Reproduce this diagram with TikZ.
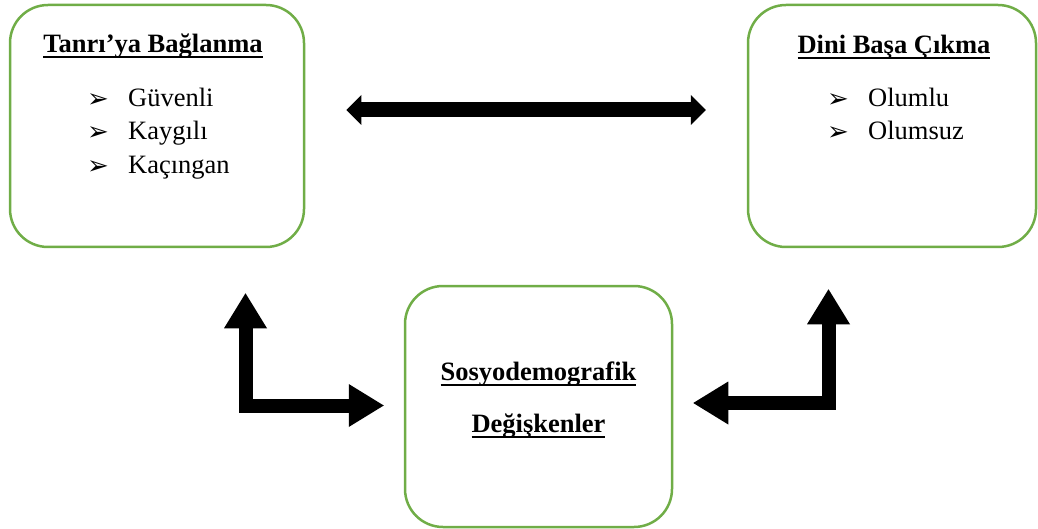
\documentclass[tikz,border=0pt]{standalone}
\usepackage{fontspec}
\setmainfont{Liberation Serif}
\newfontfamily\symfont{DejaVu Sans}
\usetikzlibrary{positioning,calc,arrows.meta}

\definecolor{boxgreen}{RGB}{112,173,71}
\newcommand\undtext[1]{\setbox0\hbox{#1}\rlap{\rule[-5pt]{\wd0}{1.8pt}}\box0}
\newcommand\itemarrow{\makebox[41pt][l]{\symfont\fontsize{26}{26}\selectfont\raisebox{-1pt}{➢}}}

\tikzset{
  roundbox/.style={draw=boxgreen, line width=2.5pt, rounded corners=38pt, inner sep=0pt},
  boxtitle/.style={font=\bfseries\fontsize{26.5}{30}\selectfont, inner sep=0pt, anchor=base},
  boxitem/.style={font=\fontsize{26.5}{30}\selectfont, inner sep=0pt, anchor=base west},
  fatarrow/.style={line width=15pt, {Triangle[length=15pt,width=30pt,line width=0pt]}-{Triangle[length=15pt,width=30pt,line width=0pt]}},
  elbowarrow/.style={line width=14pt, {Triangle[length=35pt,width=43pt,line width=0pt]}-{Triangle[length=35pt,width=43pt,line width=0pt]}}
}

\begin{document}
\begin{tikzpicture}[x=1pt, y=-1pt]
  \useasboundingbox (0,0) rectangle (1038,529);

  % boxes
  \node[roundbox, minimum width=294pt, minimum height=242pt] (tb) at (157,126) {};
  \node[roundbox, minimum width=288pt, minimum height=242pt] (db) at (892,126) {};
  \node[roundbox, minimum width=267pt, minimum height=241pt] (sd) at (538.5,406.5) {};

  % texts
  \node[boxtitle] (tbt) at ($(tb.north)+(-4,49)$) {\undtext{Tanrı’ya Bağlanma}};
  \foreach \txt [count=\i] in {Güvenli, Kaygılı, Kaçıngan}
    \node[boxitem] (tb\i) at ($(tb.north)+(-70,69+33.5*\i)$) {\itemarrow\txt};

  \node[boxtitle] (dbt) at ($(db.north)+(2,50)$) {\undtext{Dini Başa Çıkma}};
  \foreach \txt [count=\i] in {Olumlu, Olumsuz}
    \node[boxitem] (db\i) at ($(db.north)+(-65,69+33.5*\i)$) {\itemarrow\txt};

  \node[boxtitle] (sdt1) at ($(sd.north)+(0,96)$) {\undtext{Sosyodemografik}};
  \node[boxtitle] (sdt2) at ($(sd.north)+(0,148)$) {\undtext{Değişkenler}};

  % arrows
  \draw[fatarrow] ($(tb.east)+(41,-16)$) -- ($(db.west)+(-41,-16)$);
  \draw[elbowarrow] ($(sd.west)+(-20,-1)$) -| ($(tb.south)+(88.5,45)$);
  \draw[elbowarrow] ($(sd.east)+(20,-3.5)$) -| ($(db.south)+(-63.5,41)$);
\end{tikzpicture}
\end{document}
